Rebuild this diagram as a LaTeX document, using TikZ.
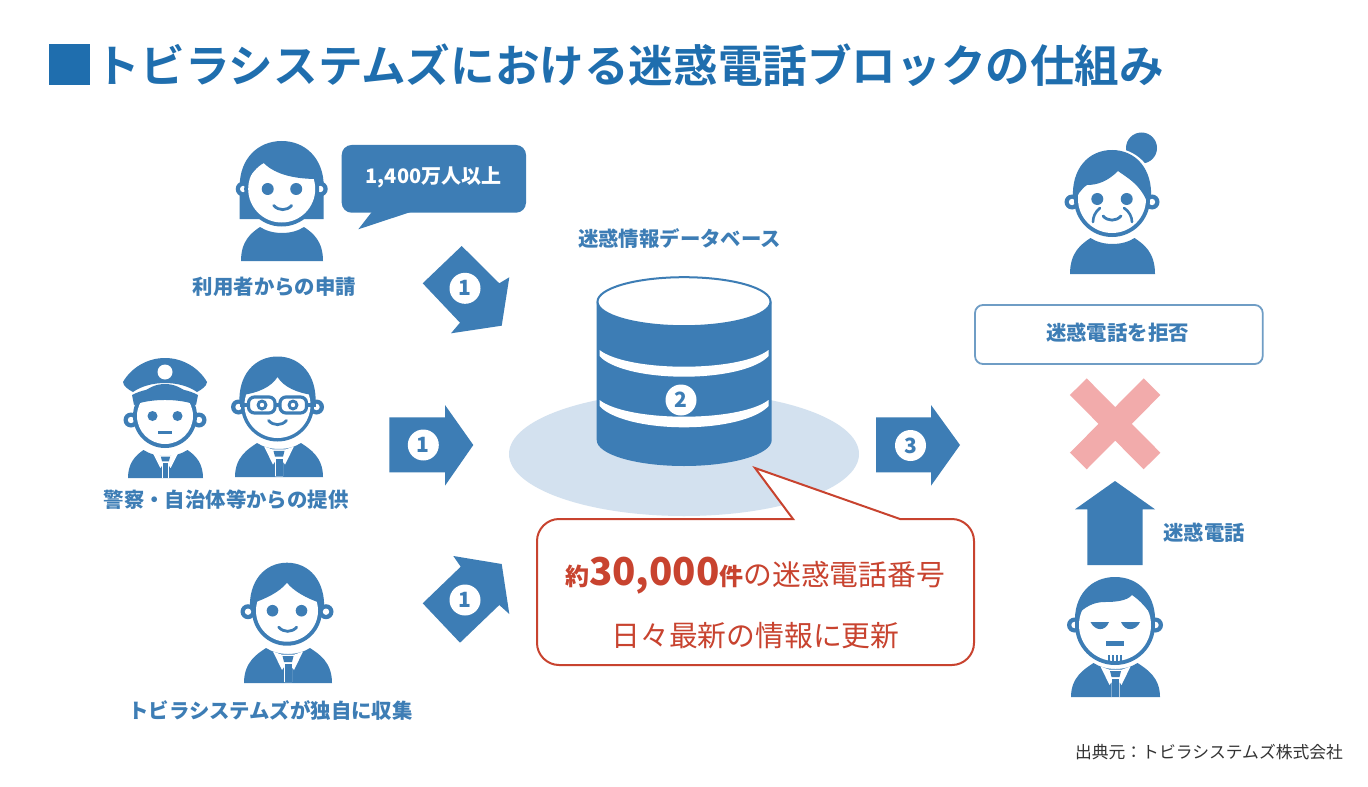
\documentclass[tikz,border=0pt]{standalone}
\usepackage{fontspec}
\setmainfont{Noto Sans CJK JP}[BoldFont={Noto Sans CJK JP Bold}]
\newfontfamily\heavy{Noto Sans CJK JP Black}
\definecolor{ib}{HTML}{3D7DB5}
\definecolor{tb}{HTML}{1F6EAE}
\definecolor{pale}{HTML}{D3E1EF}
\definecolor{rd}{HTML}{C8432F}
\definecolor{pk}{HTML}{F2ABAB}
\definecolor{bx}{HTML}{6F9DC5}
\newcommand{\dome}[2]{\fill[ib] (-#1,0) .. controls ({-#1-2},{-0.62*#2}) and ({-0.6*#1},-#2) .. (0,-#2) .. controls ({0.6*#1},-#2) and ({#1+2},{-0.62*#2}) .. (#1,0) -- cycle;}
\tikzset{
  lab/.style={font=\fontsize{10.2}{12}\selectfont\heavy,text=ib,inner sep=0pt},
  num/.style={circle,fill=white,minimum size=15.5pt,inner sep=0pt,font=\fontsize{10.5}{12}\selectfont\heavy,text=ib},
  ear/.pic={\fill[ib](0,0) circle (7.5);\fill[white](0,0) circle (3.2);},
  smile/.pic={\draw[ib,line width=1.4pt,line cap=round](-9,-2.5) .. controls (-4,3) and (4,3) .. (9,-2.5);},
  shoulders/.pic={\fill[ib] (-\pgfkeysvalueof{/tikz/bw},\pgfkeysvalueof{/tikz/bh}) .. controls (-\pgfkeysvalueof{/tikz/bw},14) and (-31,6) .. (-22,0) .. controls (-10,8) and (10,8) .. (22,0) .. controls (31,6) and (\pgfkeysvalueof{/tikz/bw},14) .. (\pgfkeysvalueof{/tikz/bw},\pgfkeysvalueof{/tikz/bh}) -- cycle;},
  bw/.initial=41, bh/.initial=34,
  collar/.pic={\fill[white](-15,3.5)--(-6,22)--(-4,19)--(-4,34)--(4,34)--(4,19)--(6,22)--(15,3.5)--(6.5,6.5)--(-6.5,6.5)--cycle;
     \fill[ib](-5.5,8)--(5.5,8)--(4,14)--(-4,14)--cycle;\fill[ib](-3.5,16)--(3.5,16)--(3.5,34)--(-3.5,34)--cycle;}
}
\begin{document}
\begin{tikzpicture}[x=0.5pt,y=-0.5pt]
\useasboundingbox (0,0) rectangle (1368,786);
\fill[white] (0,0) rectangle (1368,786);
% title
\fill[tb] (49.3,44) rectangle (90.3,85);
\node[font=\fontsize{22.3}{26}\selectfont\bfseries,text=tb,inner sep=0pt,anchor=center] (title) at (630,65) {トビラシステムズにおける迷惑電話ブロックの仕組み};
% ---------- woman
\begin{scope}[shift={(281.7,189)}]
\fill[ib] (-42,30) -- (-42,-3) .. controls (-42,-30) and (-24,-48) .. (0,-48) .. controls (24,-48) and (42,-30) .. (42,-3) -- (42,30) -- cycle;
\pic at (-38.5,0) {ear}; \pic at (38.5,0) {ear};
\fill[ib] (0,0) circle (37.5);
\fill[white] (0,0) circle (33.5);
\begin{scope}\clip (0,0) circle (35);
\fill[ib] (-36,-6) .. controls (-30,-16) and (-25,-22) .. (-18,-26) .. controls (-6,-14) and (14,-10) .. (36,-10) -- (36,-40) -- (-36,-40) -- cycle;
\end{scope}
\fill[ib] (-14,0) circle (6) (14.5,0) circle (6);
\pic at (1,19) {smile};
\end{scope}
\pic at (282,227) {shoulders};
% ---------- police
\begin{scope}[shift={(165,416)}]
\pic at (-34,4) {ear}; \pic at (34,4) {ear};
\fill[ib] (0,0) circle (32);
\fill[white] (0,0) circle (28);
\fill[ib] (-33,-21) .. controls (-15,-30.7) and (15,-30.7) .. (33,-21) -- (31,-11) .. controls (15,-17.7) and (-15,-17.7) .. (-31,-11) -- cycle;
\fill[ib] (-42,-34) .. controls (-34,-48) and (-18,-58) .. (0,-58) .. controls (18,-58) and (34,-48) .. (42,-34) .. controls (42,-30) and (36,-26) .. (32,-24) .. controls (15,-36) and (-15,-36) .. (-32,-24) .. controls (-36,-26) and (-42,-30) .. (-42,-34) -- cycle;
\fill[white] (0,-44) circle (7.5);
\fill[ib] (-12.5,0) circle (5) (12.5,0) circle (5);
\fill[ib] (-7,14.5) rectangle (7,17.5);
\end{scope}
\pic[bw=37.5,bh=28] at (165.5,450) {shoulders};
\pic[yscale=0.82,xscale=0.85] at (165.5,450) {collar};
% ---------- glasses man
\begin{scope}[shift={(277.5,405)}]
\dome{38}{48.5}
\pic at (-39,2) {ear}; \pic at (39,2) {ear};
\fill[ib] (0,0) circle (36.5);
\fill[white] (0,0) circle (33);
\begin{scope}\clip (0,0) circle (34.5);
\fill[ib] (-35,-10) .. controls (-20,-12) and (-6,-18) .. (0,-28) .. controls (6,-18) and (20,-12) .. (35,-10) -- (35,-40) -- (-35,-40) -- cycle;
\end{scope}
\draw[ib,line width=1.6pt,fill=white,rounded corners=3] (-29,-8) rectangle (-2.5,8) (2.5,-8) rectangle (29,8);
\draw[ib,line width=1.6pt] (-2.5,0) -- (2.5,0) (-29,0) -- (-38,0) (29,0) -- (38,0);
\fill[ib] (-15.5,0) circle (5.5) (15.5,0) circle (5.5);
\fill[white] (-15.5,0) circle (2.2) (15.5,0) circle (2.2);
\pic at (0,18) {smile};
\end{scope}
\pic[bw=44,bh=34] at (279,443) {shoulders};
\pic[yscale=0.98] at (279,443) {collar};
% ---------- third man
\begin{scope}[shift={(287,610.7)}]
\dome{37}{48}
\pic at (-39,1) {ear}; \pic at (39,1) {ear};
\fill[ib] (0,0) circle (35);
\fill[white] (0,0) circle (31);
\begin{scope}\clip (0,0) circle (32.5);
\fill[ib] (-33,-8) .. controls (-22,-12) and (-8,-18) .. (0,-28) .. controls (6,-20) and (20,-12) .. (33,-8) -- (33,-40) -- (-33,-40) -- cycle;
\end{scope}
\fill[ib] (-14.5,0) circle (5.8) (14.5,0) circle (5.8);
\pic at (0.7,19) {smile};
\end{scope}
\pic[bw=44,bh=35] at (288,648) {shoulders};
\pic at (288,648) {collar};
% ---------- old lady
\fill[ib] (1141.5,148) circle (15.5);
\begin{scope}[shift={(1112,199)}]
\fill[white] (0,-8) circle (43);
\dome{39}{49}
\pic at (-40,3) {ear}; \pic at (40,3) {ear};
\fill[ib] (0,0) circle (38);
\fill[white] (0,0) circle (34);
\begin{scope}\clip (0,0) circle (35.5);
\fill[ib] (-36,-2) .. controls (-30,-10) and (-28,-12) .. (-25,-14) .. controls (-14,-14) and (-4,-18) .. (6,-28) .. controls (14,-22) and (30,-14) .. (36,6) -- (36,-40) -- (-36,-40) -- cycle;
\end{scope}
\fill[ib] (-14.7,0) circle (6) (14.7,0) circle (6);
\pic at (0,19.5) {smile};
\draw[ib,line width=1.3pt,line cap=round] (-12,9) .. controls (-17,13) and (-19,18) .. (-19,23);
\draw[ib,line width=1.3pt,line cap=round] (12,9) .. controls (17,12) and (20,18) .. (20,23);
\end{scope}
\pic[bw=42.5,bh=36] at (1112.5,238) {shoulders};
% ---------- bad man
\begin{scope}[shift={(1115,625)}]
\dome{40}{48}
\pic at (-40.5,0) {ear}; \pic at (40.5,0) {ear};
\fill[ib] (0,0) circle (40);
\fill[white] (0,0) circle (36);
\begin{scope}\clip (0,0) circle (37.5);
\fill[ib] (-38,-10) .. controls (-30,-18) and (-22,-23) .. (-10,-23) .. controls (0,-23) and (12,-24) .. (17,-30) .. controls (26,-24) and (32,-16) .. (38,-8) -- (38,-42) -- (-38,-42) -- cycle;
\end{scope}
\fill[ib] (-24.5,-3) .. controls (-20,6) and (-10,7) .. (-6,-3) -- cycle;
\fill[ib] (6,-3) .. controls (10,7) and (21,6) .. (25,-3) -- cycle;
\fill[ib] (-9,16) rectangle (9,21);
\draw[ib,line width=0.7pt] (-6,30) -- (-6,37) (-2,30) -- (-2,37) (2,30) -- (2,37) (6,30) -- (6,37);
\end{scope}
\pic[bw=44.5,bh=34] at (1115.5,663) {shoulders};
\pic at (1115.5,663) {collar};
% ---------- speech bubble
\fill[ib,rounded corners=5pt] (341.7,145) rectangle (526,212.7);
\fill[ib] (373.3,210) -- (358.3,229.3) -- (416.7,210) -- cycle;
\node[font=\fontsize{10}{12}\selectfont\heavy,text=white,inner sep=0pt] (count) at (433.5,177) {1,400万人以上};
% ---------- labels
\node[lab] (lab1) at (274.5,287) {利用者からの申請};
\node[lab] (lab2) at (226,500) {警察・自治体等からの提供};
\node[lab] (lab3) at (270.5,711) {トビラシステムズが独自に収集};
\node[lab] (labdb) at (679.5,239) {迷惑情報データベース};
\node[lab] (labsp) at (1204,533) {迷惑電話};
% ---------- arrows
\fill[ib] (461.7,246) -- (499.3,283.3) -- (509.3,277.3) -- (501.7,325.7) -- (451,333.3) -- (460,322.7) -- (422.7,283.3) -- cycle;
\node[num] (n1a) at (465,288.3) {1};
\fill[ib] (389.3,417.3) -- (445,417.3) -- (445,405) -- (473.3,445) -- (445,485.7) -- (445,472.3) -- (389.3,472.3) -- cycle;
\node[num] (n1b) at (423.3,445) {1};
\fill[ib] (422.7,603.3) -- (460,642.7) -- (499.3,605) -- (509.3,614) -- (501.7,564) -- (453.3,556) -- (460.7,566.7) -- cycle;
\node[num] (n1c) at (465,600) {1};
\fill[ib] (876,417.3) -- (931,417.3) -- (931,405) -- (960,445) -- (931,485.7) -- (931,472.3) -- (876,472.3) -- cycle;
\node[num] (n3) at (910.5,445.5) {3};
% ---------- database
\fill[pale] (684,454) ellipse (175 and 62);
\fill[ib] (596.7,301.7) -- (596.7,440) .. controls (596.7,454.5) and (636,466) .. (684,466) .. controls (732,466) and (771.7,454.5) .. (771.7,440) -- (771.7,301.7) -- cycle;
\draw[ib,line width=1pt,fill=white] (684,301.7) ellipse (86.5 and 24.5);
\fill[white] (599.5,350) .. controls (612,360) and (645,366.7) .. (684,366.7) .. controls (723,366.7) and (756,360) .. (768.5,350) -- (768.5,356) .. controls (758,368) and (725,376.7) .. (684,376.7) .. controls (643,376.7) and (610,368) .. (599.5,356) -- cycle;
\fill[white] (599.5,400) .. controls (612,410) and (645,416.7) .. (684,416.7) .. controls (723,416.7) and (756,410) .. (768.5,400) -- (768.5,406) .. controls (758,418) and (725,427.3) .. (684,427.3) .. controls (643,427.3) and (610,418) .. (599.5,406) -- cycle;
\node[num] (n2) at (681,400) {2};
% ---------- callout
\draw[rd,line width=1pt,fill=white] (559,519) -- (793,519) -- (755,468) -- (900,519) -- (952,519) .. controls (964,519) and (974,529) .. (974,541) -- (974,643) .. controls (974,655) and (964,665) .. (952,665) -- (559,665) .. controls (547,665) and (537,655) .. (537,643) -- (537,541) .. controls (537,529) and (547,519) .. (559,519) -- cycle;
\node[inner sep=0pt,text=rd,font=\fontsize{14.4}{17}\selectfont] (line1) at (755,576) {{\heavy\fontsize{12}{14}\selectfont 約\fontsize{19.2}{24}\selectfont 30,000\fontsize{12}{14}\selectfont 件}の迷惑電話番号};
\node[inner sep=0pt,text=rd,font=\fontsize{14.4}{17}\selectfont] (line2) at (755.5,636) {日々最新の情報に更新};
% ---------- right column
\draw[bx,line width=0.9pt,fill=white,rounded corners=4pt] (975,305) rectangle (1262.7,364);
\node[lab] (reject) at (1117.5,333) {迷惑電話を拒否};
\draw[pk,line width=11.8pt] (1078.3,386.7) -- (1152,461) (1152,386.7) -- (1078.3,461);
\fill[ib] (1115,481) -- (1155,509.3) -- (1142.7,509.3) -- (1142.7,565) -- (1087.3,565) -- (1087.3,509.3) -- (1075,509.3) -- cycle;
% source
\node[font=\fontsize{8.4}{10}\selectfont,text=black!80,inner sep=0pt] (src) at (1209,752) {出典元：トビラシステムズ株式会社};
\end{tikzpicture}
\end{document}
